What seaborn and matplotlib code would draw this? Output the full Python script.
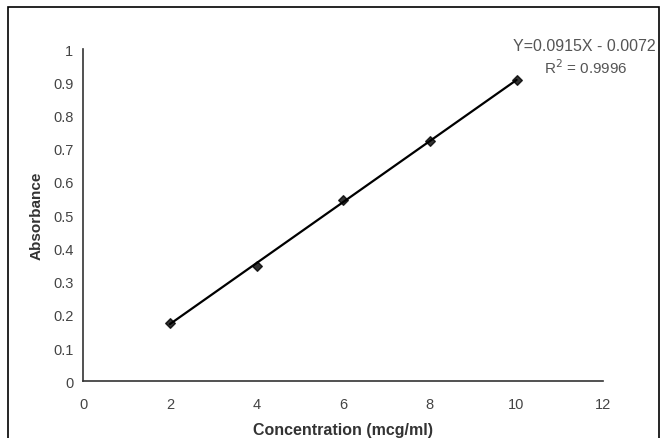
import matplotlib
matplotlib.use("Agg")
import matplotlib.pyplot as plt
import numpy as np
import pandas as pd
import seaborn as sns
from matplotlib.patches import Rectangle

# calibration data
concentration = [2, 4, 6, 8, 10]
absorbance = [0.176, 0.347, 0.545, 0.724, 0.906]
equation_text = "Y=0.0915X - 0.0072"
r2_text = "R$^2$ = 0.9996"
x_ticks = [0, 2, 4, 6, 8, 10, 12]
y_ticks = [0, 0.1, 0.2, 0.3, 0.4, 0.5, 0.6, 0.7, 0.8, 0.9, 1]

sns.set_theme(style="white")
plt.rcParams["font.family"] = ["Liberation Sans", "DejaVu Sans"]

df = pd.DataFrame({"conc": concentration, "abs": absorbance})

fig = plt.figure(figsize=(6.6, 4.39), dpi=100)
ax = fig.add_axes([0.126, 0.129, 0.788, 0.757])

sns.regplot(
    data=df, x="conc", y="abs", ax=ax, ci=None, marker="D",
    color="black",
    scatter_kws={"s": 24, "edgecolor": "black", "zorder": 3},
    line_kws={"linewidth": 1.6},
)

ax.set_xlim(0, 12)
ax.set_ylim(0, 1)
ax.set_xticks(x_ticks)
ax.set_xticklabels([str(t) for t in x_ticks])
ax.set_yticks(y_ticks)
ax.set_yticklabels([f"{t:g}" for t in y_ticks])
ax.tick_params(axis="x", direction="out", length=4, width=1, color="#333333",
               labelsize=10.5, labelcolor="#444444", pad=7)
ax.tick_params(axis="y", length=0, labelsize=10.5, labelcolor="#444444", pad=7)
ax.set_xlabel("Concentration (mcg/ml)", fontsize=11.5, fontweight="bold",
              color="#333333", labelpad=8)
ax.set_ylabel("Absorbance", fontsize=11, fontweight="bold",
              color="#333333", labelpad=7)

for side in ["top", "right"]:
    ax.spines[side].set_visible(False)
for side in ["left", "bottom"]:
    ax.spines[side].set_color("#333333")
    ax.spines[side].set_linewidth(1.2)

fig.text(0.886, 0.893, equation_text, ha="center", va="center", fontsize=11.5, color="#555555")
fig.text(0.888, 0.847, r2_text, ha="center", va="center", fontsize=11, color="#555555")

# outer frame like the exported picture (open at the bottom)
fig.patches.append(Rectangle((8 / 660, -0.1), 650.5 / 660, 1 - 8 / 439 + 0.1,
                             transform=fig.transFigure, fill=False,
                             edgecolor="black", linewidth=1.2))

fig.savefig("out.png", dpi=100)
